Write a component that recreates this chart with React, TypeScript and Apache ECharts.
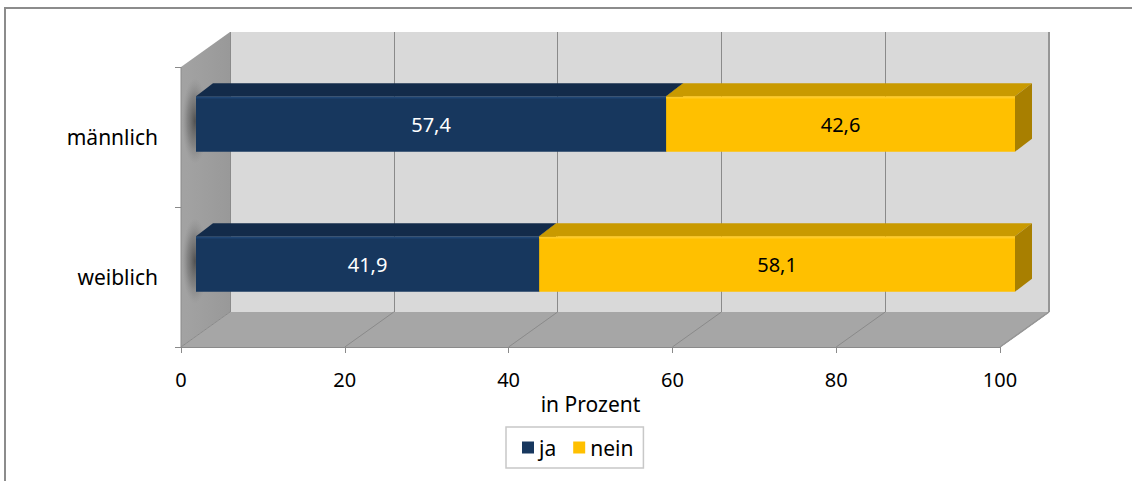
import React, { useEffect, useRef } from 'react';
import * as echarts from 'echarts';

const categories = ['männlich', 'weiblich'];
const jaValues = [57.4, 41.9];
const neinValues = [42.6, 58.1];
const seriesNames = ['ja', 'nein'];
const xMin = 0;
const xMax = 100;
const xStep = 20;
const axisTitle = 'in Prozent';

// layout (pixels)
const W = 1132, H = 481;
const FL = 181, FR = 1000, FT = 67, FB = 347; // front plane
const DX = 49, DY = -35; // depth of the 3D box
const BAR_FRONT = [15, -13]; // front face offset inside the box
const BAR_DEPTH = [17, -13]; // bar depth

const FONT = '"Noto Sans", sans-serif';

const fmt = (v: number) => String(v).replace('.', ',');

function makeRender(front: string, top: string, side: string, hl: string, labelColor: string) {
  return (params: any, api: any) => {
    const cat = api.value(0);
    const s = api.value(1);
    const e = api.value(2);
    const v = api.value(3);
    const a = api.coord([s, cat]);
    const b = api.coord([e, cat]);
    const band = api.size([0, 1])[1];
    const h = band * 0.395;
    const x0 = a[0] + BAR_FRONT[0];
    const x1 = b[0] + BAR_FRONT[0];
    const y0 = a[1] + BAR_FRONT[1] - h / 2;
    const y1 = y0 + h;
    const [ddx, ddy] = BAR_DEPTH;
    const children: any[] = [];
    if (s === xMin) {
      children.push({
        type: 'rect',
        shape: { x: a[0] + 1, y: y0 - 18, width: 26, height: h + 30 },
        style: {
          fill: new echarts.graphic.RadialGradient(0.5, 0.5, 0.5, [
            { offset: 0, color: 'rgba(55,55,55,0.75)' },
            { offset: 0.6, color: 'rgba(80,80,80,0.35)' },
            { offset: 1, color: 'rgba(120,120,120,0)' },
          ]),
        },
      });
    }
    children.push(
      {
        type: 'polygon',
        shape: { points: [[x0, y0], [x1, y0], [x1 + ddx, y0 + ddy], [x0 + ddx, y0 + ddy]] },
        style: { fill: top },
      },
      {
        type: 'polygon',
        shape: { points: [[x1, y0], [x1 + ddx, y0 + ddy], [x1 + ddx, y1 + ddy], [x1, y1]] },
        style: { fill: side },
      },
      {
        type: 'rect',
        shape: { x: x0, y: y0, width: x1 - x0, height: h },
        style: { fill: front },
      },
      {
        type: 'line',
        shape: { x1: x0, y1: y0 + 1.5, x2: x1, y2: y0 + 1.5 },
        style: { stroke: hl, lineWidth: 1.5 },
      },
      {
        type: 'text',
        x: (x0 + x1) / 2,
        y: (y0 + y1) / 2,
        style: {
          text: fmt(v),
          fill: labelColor,
          font: `20px ${FONT}`,
          align: 'center',
          verticalAlign: 'middle',
        },
      }
    );
    return { type: 'group', children };
  };
}

export default function App() {
  const ref = useRef<HTMLDivElement>(null);
  useEffect(() => {
    document.body.style.margin = '0';
    const chart = echarts.init(ref.current!, null, { renderer: 'svg' });

    const floorLines: any[] = [];
    for (let v = xMin; v <= xMax; v += xStep) {
      const fx = FL + ((FR - FL) * (v - xMin)) / (xMax - xMin);
      floorLines.push({
        type: 'line',
        z: 1,
        shape: { x1: fx, y1: FB, x2: fx + DX, y2: FB + DY },
        style: { stroke: '#8a8a8a', lineWidth: 1 },
      });
    }

    const option: any = {
      animation: false,
      grid: [
        { left: FL, right: W - FR, top: FT, bottom: H - FB, containLabel: false },
        {
          left: FL + DX,
          right: W - FR - DX,
          top: FT + DY,
          bottom: H - FB - DY,
          show: true,
          backgroundColor: '#d9d9d9',
          borderWidth: 0,
          z: 0,
        },
      ],
      xAxis: [
        {
          type: 'value',
          gridIndex: 0,
          min: xMin,
          max: xMax,
          interval: xStep,
          axisLine: { show: true, lineStyle: { color: '#8a8a8a', width: 1 } },
          axisTick: { show: true, length: 6, lineStyle: { color: '#8a8a8a' } },
          axisLabel: { color: '#000', fontFamily: FONT, fontSize: 20, margin: 22 },
          splitLine: { show: false },
          name: axisTitle,
          nameLocation: 'middle',
          nameGap: 45,
          nameTextStyle: { color: '#000', fontFamily: FONT, fontSize: 21 },
        },
        {
          type: 'value',
          gridIndex: 1,
          min: xMin,
          max: xMax,
          interval: xStep,
          axisLine: { show: false },
          axisTick: { show: false },
          axisLabel: { show: false },
          splitLine: { show: true, lineStyle: { color: '#8a8a8a', width: 1 } },
        },
      ],
      yAxis: [
        {
          type: 'category',
          gridIndex: 0,
          data: categories,
          inverse: true,
          axisLine: { show: false },
          axisTick: { show: true, length: 6, lineStyle: { color: '#8a8a8a' } },
          axisLabel: { color: '#000', fontFamily: FONT, fontSize: 21, margin: 23 },
        },
        {
          type: 'category',
          gridIndex: 1,
          data: categories,
          inverse: true,
          show: false,
        },
      ],
      legend: {
        left: 506,
        top: 427,
        data: [
          { name: seriesNames[0], icon: 'rect' },
          { name: seriesNames[1], icon: 'rect' },
        ],
        itemWidth: 12,
        itemHeight: 12,
        itemGap: 17,
        padding: [10, 10, 10, 16],
        borderColor: '#c8c8c8',
        borderWidth: 1.5,
        textStyle: { color: '#000', fontFamily: FONT, fontSize: 21 },
      },
      graphic: [
        {
          type: 'rect',
          z: 0,
          shape: { x: 5, y: 8, width: 1400, height: 800 },
          style: { fill: 'none', stroke: '#8c8c8c', lineWidth: 2 },
        },
        {
          type: 'polygon',
          z: 1,
          shape: { points: [[FL, FT], [FL + DX, FT + DY], [FL + DX, FB + DY], [FL, FB]] },
          style: {
            fill: new echarts.graphic.LinearGradient(0, 0, 1, 0, [
              { offset: 0, color: '#a3a3a3' },
              { offset: 1, color: '#999999' },
            ]),
          },
        },
        {
          type: 'polygon',
          z: 1,
          shape: { points: [[FL, FB], [FL + DX, FB + DY], [FR + DX, FB + DY], [FR, FB]] },
          style: { fill: '#a6a6a6' },
        },
        ...floorLines,
        {
          type: 'line',
          z: 1,
          shape: { x1: FL, y1: FT, x2: FL, y2: FB },
          style: { stroke: '#8a8a8a', lineWidth: 1 },
        },
        {
          type: 'line',
          z: 1,
          shape: { x1: FR + DX, y1: FT + DY, x2: FR + DX, y2: FB + DY },
          style: { stroke: '#969696', lineWidth: 2 },
        },
        {
          type: 'line',
          z: 1,
          shape: { x1: FR, y1: FB, x2: FR + DX, y2: FB + DY },
          style: { stroke: '#969696', lineWidth: 1.5 },
        },
      ],
      series: [
        {
          name: seriesNames[0],
          type: 'custom',
          xAxisIndex: 0,
          yAxisIndex: 0,
          z: 5,
          itemStyle: { color: '#17375e' },
          encode: { x: [1, 2], y: 0 },
          renderItem: makeRender('#17375e', '#132b4a', '#0f2440', '#1f4573', '#ffffff'),
          data: categories.map((_, i) => [i, 0, jaValues[i], jaValues[i]]),
        },
        {
          name: seriesNames[1],
          type: 'custom',
          xAxisIndex: 0,
          yAxisIndex: 0,
          z: 6,
          itemStyle: { color: '#ffc000' },
          encode: { x: [1, 2], y: 0 },
          renderItem: makeRender('#ffc000', '#c99a00', '#a87f00', '#ffcb26', '#000000'),
          data: categories.map((_, i) => [i, jaValues[i], jaValues[i] + neinValues[i], neinValues[i]]),
        },
      ],
    };
    chart.setOption(option);
    return () => chart.dispose();
  }, []);
  return <div ref={ref} style={{ width: W, height: H }} />;
}
